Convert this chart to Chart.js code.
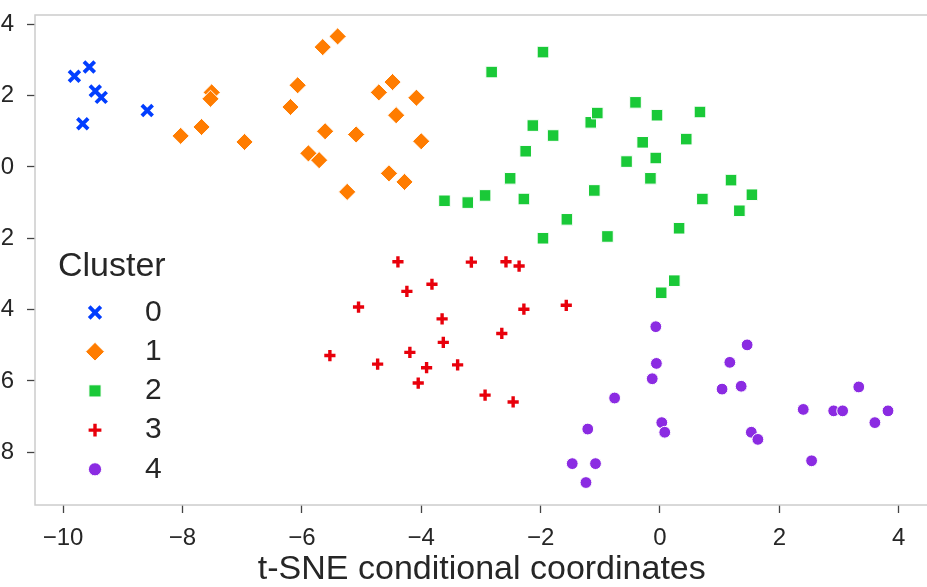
<!DOCTYPE html>
<html>
<head>
<meta charset="utf-8">
<title>t-SNE clusters</title>
<script src="https://cdn.jsdelivr.net/npm/chart.js"></script>
<style>
  html, body { margin: 0; padding: 0; background: #fff; overflow: hidden; }
  #wrap { position: relative; width: 927px; height: 587px; overflow: hidden; }
  /* canvas is shifted left so the y tick labels run off the edge */
  #scatter { position: absolute; left: -60px; top: 0; }
</style>
</head>
<body>
<div id="wrap"><canvas id="scatter" width="1000" height="587"></canvas></div>
<script>
// Cluster labels and axis ticks
const clusterLabels = ['0', '1', '2', '3', '4'];
const xTicks = [-10, -8, -6, -4, -2, 0, 2, 4];
const yTicks = [-8, -6, -4, -2, 0, 2, 4];

// Embedding coordinates per cluster
const cluster0X = [-9.81, -9.56, -9.46, -9.36, -9.67, -8.59];
const cluster0Y = [2.54, 2.80, 2.13, 1.95, 1.21, 1.58];

const cluster1X = [-7.51, -7.53, -8.03, -7.68, -6.96, -6.07, -6.19, -5.89, -5.71, -5.40, -5.65,
                   -5.61, -5.09, -5.24, -4.71, -4.48, -4.08, -4.42, -4.00, -4.54, -4.28];
const cluster1Y = [2.09, 1.91, 0.87, 1.12, 0.70, 2.29, 1.68, 0.38, 0.19, 3.66, 3.36,
                   1.00, 0.91, -0.70, 2.09, 2.38, 1.94, 1.45, 0.72, -0.18, -0.42];

const cluster2X = [-1.96, -2.82, -2.13, -1.79, -2.25, -2.51, -1.16, -1.05, -1.10, -3.61, -3.22,
                   -2.93, -2.28, -0.41, -0.05, 0.67, -0.29, 0.44, -0.56, -0.07, -0.16, 1.19,
                   1.54, 0.71, 1.33, 0.32, -0.88, -1.56, -1.96, 0.24, 0.02];
const cluster2Y = [3.22, 2.66, 1.16, 0.88, 0.44, -0.32, 1.25, 1.51, -0.66, -0.95, -1.00,
                   -0.80, -0.90, 1.81, 1.45, 1.54, 0.69, 0.78, 0.15, 0.25, -0.32, -0.37,
                   -0.78, -0.90, -1.23, -1.72, -1.95, -1.47, -2.00, -3.19, -3.53];

const cluster3X = [-4.39, -3.16, -2.58, -2.36, -3.82, -4.24, -5.05, -3.65, -2.28, -1.57,
                   -2.65, -3.63, -5.53, -4.73, -4.19, -3.91, -3.39, -4.05, -2.93, -2.46];
const cluster3Y = [-2.66, -2.67, -2.66, -2.78, -3.29, -3.49, -3.93, -4.26, -3.99, -3.88,
                   -4.67, -4.92, -5.29, -5.53, -5.20, -5.63, -5.55, -6.06, -6.40, -6.59];

const cluster4X = [-0.07, -0.06, -0.13, -0.76, -1.21, -1.47, -1.08, -1.24, 0.03, 0.08, 1.46, 1.17,
                   1.04, 1.36, 1.53, 1.64, 2.40, 2.91, 3.06, 3.33, 3.82, 3.60, 2.54];
const cluster4Y = [-4.48, -5.51, -5.94, -6.48, -7.35, -8.32, -8.32, -8.85, -7.17, -7.44, -4.99, -5.48,
                   -6.23, -6.15, -7.44, -7.64, -6.80, -6.84, -6.84, -6.17, -6.84, -7.17, -8.24];

const clusterX = [cluster0X, cluster1X, cluster2X, cluster3X, cluster4X];
const clusterY = [cluster0Y, cluster1Y, cluster2Y, cluster3Y, cluster4Y];

// Marker look per cluster (seaborn "bright" palette)
const colors = ['#023eff', '#ff7c00', '#1ac938', '#e8000b', '#8b2be2'];
const markers = [
    { style: 'crossRot', radius: 7.6, legendRadius: 8.2, width: 3.8, edge: null },
    { style: 'rectRot', radius: 8.6, legendRadius: 9.4, width: 1, edge: '#ffffff' },
    { style: 'rect', radius: 8.2, legendRadius: 8.6, width: 1, edge: '#ffffff' },
    { style: 'cross', radius: 5.6, legendRadius: 6.4, width: 3.4, edge: null },
    { style: 'circle', radius: 5.9, legendRadius: 6.6, width: 1, edge: '#ffffff' }
];

const FONT = '"Liberation Sans", Arial, sans-serif';
const TEXT = '#262626';
Chart.defaults.font.family = FONT;
Chart.defaults.color = TEXT;

function minusSign(v) {
    return String(v).replace('-', '\u2212');
}

// Frame around the plot area (light gray spines)
const frame = {
    id: 'frame',
    beforeDatasetsDraw(chart) {
        const { ctx, chartArea: a } = chart;
        ctx.save();
        ctx.strokeStyle = '#cccccc';
        ctx.lineWidth = 1.5;
        ctx.strokeRect(a.left, a.top, a.right - a.left, a.bottom - a.top);
        ctx.restore();
    }
};

// Legend drawn inside the plot area, with a title
const clusterLegend = {
    id: 'clusterLegend',
    afterDatasetsDraw(chart, args, opts) {
        const ctx = chart.ctx;
        ctx.save();
        ctx.fillStyle = TEXT;
        ctx.font = '34px ' + FONT;
        ctx.textAlign = 'left';
        ctx.textBaseline = 'alphabetic';
        ctx.fillText(opts.title, opts.x, opts.titleY);

        chart.data.datasets.forEach((ds, i) => {
            const m = markers[i];
            const y = opts.firstRowY + i * opts.rowGap;
            ctx.fillStyle = colors[i];
            ctx.strokeStyle = m.edge || colors[i];
            ctx.lineWidth = m.width;
            Chart.helpers.drawPoint(ctx, {
                pointStyle: m.style,
                radius: m.legendRadius,
                borderWidth: m.width,
                rotation: 0
            }, opts.markerX, y);

            ctx.fillStyle = TEXT;
            ctx.font = '30px ' + FONT;
            ctx.textBaseline = 'middle';
            ctx.fillText(ds.label, opts.labelX, y);
        });
        ctx.restore();
    }
};

const datasets = clusterLabels.map((label, i) => ({
    label: label,
    data: clusterX[i].map((x, j) => ({ x: x, y: clusterY[i][j] })),
    pointStyle: markers[i].style,
    pointRadius: markers[i].radius,
    pointBackgroundColor: colors[i],
    pointBorderColor: markers[i].edge || colors[i],
    pointBorderWidth: markers[i].width
}));

const ctx = document.getElementById('scatter').getContext('2d');
new Chart(ctx, {
    type: 'scatter',
    data: { datasets: datasets },
    plugins: [frame, clusterLegend],
    options: {
        responsive: false,
        animation: false,
        devicePixelRatio: 1,
        layout: { padding: { top: 15, right: 11, bottom: 0, left: 0 } },
        plugins: {
            legend: { display: false },
            tooltip: { enabled: false },
            clusterLegend: {
                title: 'Cluster',
                x: 118,
                titleY: 276,
                markerX: 155,
                labelX: 205,
                firstRowY: 312.5,
                rowGap: 39.2
            }
        },
        scales: {
            x: {
                type: 'linear',
                min: -10.47,
                max: 4.5,
                afterBuildTicks: scale => { scale.ticks = xTicks.map(v => ({ value: v })); },
                afterFit: scale => {
                    scale.height = 82;
                    scale.paddingLeft = 0;
                    scale.paddingRight = 0;
                },
                border: { display: false },
                grid: {
                    drawOnChartArea: false,
                    drawTicks: true,
                    tickLength: 8,
                    tickColor: '#444444',
                    tickWidth: 1.3
                },
                ticks: {
                    padding: 11,
                    color: TEXT,
                    font: { size: 24 },
                    maxRotation: 0,
                    callback: v => minusSign(v)
                },
                title: {
                    display: true,
                    text: 't-SNE conditional coordinates',
                    color: TEXT,
                    font: { size: 34, lineHeight: 1.0 },
                    padding: { top: 0, bottom: 0 }
                }
            },
            y: {
                type: 'linear',
                min: -9.48,
                max: 4.26,
                afterBuildTicks: scale => { scale.ticks = yTicks.map(v => ({ value: v })); },
                afterFit: scale => {
                    scale.width = 95;
                    scale.paddingTop = 0;
                    scale.paddingBottom = 0;
                },
                border: { display: false },
                grid: {
                    drawOnChartArea: false,
                    drawTicks: true,
                    tickLength: 8,
                    tickColor: '#444444',
                    tickWidth: 1.3
                },
                ticks: {
                    padding: 13,
                    color: TEXT,
                    font: { size: 24 },
                    callback: v => minusSign(v)
                }
            }
        }
    }
});
</script>
</body>
</html>
